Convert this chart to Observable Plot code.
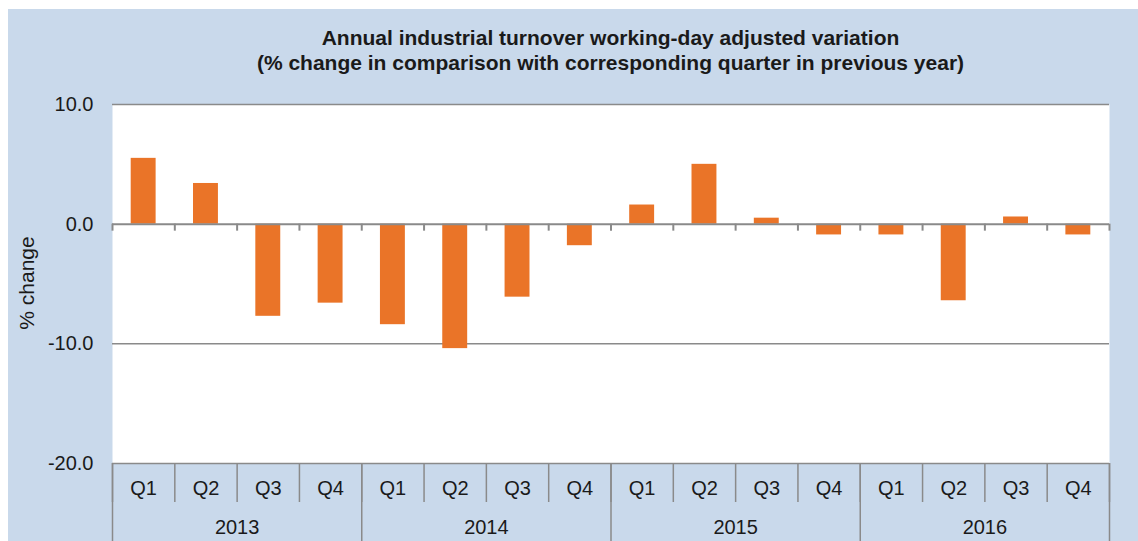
<!DOCTYPE html>
<html>
<head>
<meta charset="utf-8">
<script src="https://cdn.jsdelivr.net/npm/d3@7"></script>
<script src="https://cdn.jsdelivr.net/npm/@observablehq/plot@0.6"></script>
<style>
  html, body { margin: 0; padding: 0; background: #ffffff; }
  #wrap { position: relative; width: 1138px; height: 541px; overflow: hidden; font-family: "Liberation Sans", Arial, sans-serif; }
  #bg { position: absolute; left: 8px; top: 9px; right: 0; bottom: 0; background: #c9d9eb; }
  #chart { position: absolute; left: 0; top: 0; }
  #title { position: absolute; left: 112px; width: 997px; top: 25px; text-align: center; font-weight: bold; font-size: 21px; line-height: 25px; color: #1a1a1a; }
  #ylab { position: absolute; left: 27px; top: 283px; transform: translate(-50%, -50%) rotate(-90deg); font-size: 21px; color: #1a1a1a; white-space: nowrap; }
</style>
</head>
<body>
<div id="wrap">
  <div id="bg"></div>
  <div id="chart"></div>
  <div id="title">Annual industrial turnover working-day adjusted variation<br>(% change in comparison with corresponding quarter in previous year)</div>
  <div id="ylab">% change</div>
</div>
<script>
const years = ["2013", "2014", "2015", "2016"];
const quarters = ["Q1", "Q2", "Q3", "Q4"];
const values = [5.5, 3.4, -7.7, -6.6, -8.4, -10.4, -6.1, -1.8, 1.6, 5.0, 0.5, -0.9, -0.9, -6.4, 0.6, -0.9];
const yTicks = [10, 0, -10, -20];

const rows = values.map((v, i) => ({i, value: v, quarter: quarters[i % 4], year: years[Math.floor(i / 4)]}));
const yearRows = years.map((y, k) => ({year: y, center: k * quarters.length + (quarters.length - 1) / 2}));
const bounds = d3.range(values.length + 1).map(i => i - 0.5);
const yearBounds = d3.range(years.length + 1).map(k => k * quarters.length - 0.5);

const grey = "#8a8a8a";
const ink = "#1a1a1a";

const chart = Plot.plot({
  width: 1138,
  height: 541,
  marginLeft: 112,
  marginRight: 29,
  marginTop: 104,
  marginBottom: 78,
  style: {background: "transparent", fontFamily: "'Liberation Sans', Arial, sans-serif", color: ink},
  x: {domain: [-0.5, values.length - 0.5], axis: null},
  y: {domain: [-20, 10], axis: null},
  marks: [
    Plot.frame({fill: "white", stroke: null}),
    Plot.ruleY([10, -10], {stroke: grey, strokeWidth: 1.5}),
    Plot.rectY(rows, {x1: d => d.i - 0.2, x2: d => d.i + 0.2, y1: 0, y2: "value", fill: "#ea7428"}),
    Plot.ruleY([0], {stroke: grey, strokeWidth: 2}),
    Plot.ruleX(bounds, {x: d => d, y1: 0, y2: 0, insetBottom: -7, stroke: grey, strokeWidth: 2}),
    Plot.ruleY([-20], {stroke: grey, strokeWidth: 1.5}),
    Plot.axisX(bounds, {tickSize: 39, tickFormat: () => "", stroke: grey, strokeWidth: 1.5, label: null}),
    Plot.axisX(yearBounds, {tickSize: 78, tickFormat: () => "", stroke: grey, strokeWidth: 1.5, label: null}),
    Plot.text(rows, {x: "i", text: "quarter", frameAnchor: "bottom", lineAnchor: "middle", dy: 25, fontSize: 20, fill: ink}),
    Plot.text(yearRows, {x: "center", text: "year", frameAnchor: "bottom", lineAnchor: "middle", dy: 64, fontSize: 20, fill: ink}),
    Plot.axisY(yTicks, {tickSize: 0, tickPadding: 19, tickFormat: d => d.toFixed(1), fontSize: 20, fill: ink, label: null})
  ]
});
document.getElementById("chart").appendChild(chart);
</script>
</body>
</html>
